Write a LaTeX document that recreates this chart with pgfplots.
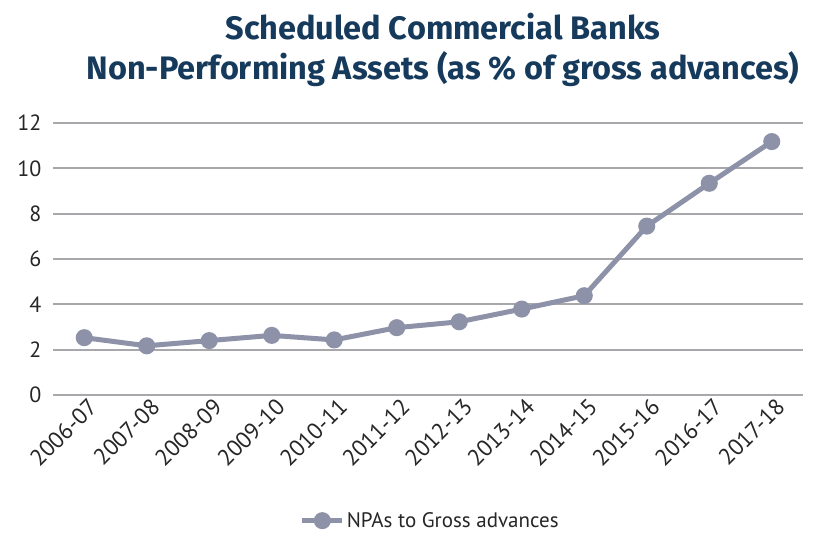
\documentclass[border=0pt]{standalone}
\usepackage{fontspec}
\setmainfont{PT Sans}
\newfontfamily\titlefont{Fira Sans}
\usepackage{pgfplots}
\pgfplotsset{compat=1.18}
\definecolor{linec}{HTML}{8E92A8}
\definecolor{gridc}{HTML}{A8A8AC}
\definecolor{titlec}{HTML}{163A5C}
\definecolor{textc}{HTML}{262626}
\begin{document}
\begin{tikzpicture}[x=1pt,y=1pt]
\path[use as bounding box] (-53,-140) rectangle (760,395);
\begin{axis}[at={(0,0)}, anchor=south west, scale only axis,
  width=750pt, height=272pt,
  xmin=-0.5, xmax=11.5, ymin=0, ymax=12,
  ytick={0,2,...,12}, xtick={0,...,11},
  xticklabels={2006-07,2007-08,2008-09,2009-10,2010-11,2011-12,2012-13,2013-14,2014-15,2015-16,2016-17,2017-18},
  axis line style={draw=none}, major tick style={draw=none},
  ymajorgrids, grid style={gridc, line width=2pt},
  /pgf/number format/assume math mode=true,
  x tick label style={rotate=45, anchor=north east, font=\fontsize{23}{26}\selectfont, text=textc, xshift=4pt},
  y tick label style={font=\fontsize{22}{24}\selectfont, text=textc, xshift=-8pt},
  clip=false,
  legend style={at={(0.503,-0.462)}, anchor=center, draw=none, fill=none,
    font=\fontsize{21}{24}\selectfont, text=textc, inner sep=1pt},
  legend image code/.code={\draw[linec, line width=5pt] (0pt,0pt) -- (40pt,0pt);
    \fill[linec] (20pt,0pt) circle (6pt);},
]
\addplot[linec, line width=5pt, mark=*, mark size=6pt, mark options={fill=linec, draw=linec}]
  coordinates {(0,2.53) (1,2.17) (2,2.40) (3,2.63) (4,2.43) (5,2.97) (6,3.23) (7,3.79) (8,4.38) (9,7.45) (10,9.34) (11,11.18)};
\addlegendentry{NPAs to Gross advances}
\end{axis}
\node[text=titlec, font=\titlefont\bfseries\fontsize{32.5}{40}\selectfont, align=center] at (390,345)
  {Scheduled Commercial Banks\\Non-Performing Assets (as \% of gross advances)};
\end{tikzpicture}
\end{document}
